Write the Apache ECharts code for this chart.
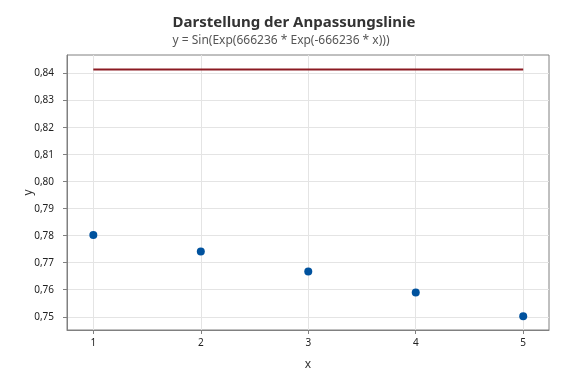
<!DOCTYPE html>
<html>
<head>
<meta charset="utf-8">
<script src="https://cdn.jsdelivr.net/npm/echarts@6/dist/echarts.min.js"></script>
<style>html,body{margin:0;padding:0;background:#fff}#c{width:576px;height:384px}</style>
</head>
<body>
<div id="c"></div>
<script>
var titleText = 'Darstellung der Anpassungslinie';
var subtitleText = 'y = Sin(Exp(666236 * Exp(-666236 * x)))';
var xValues = [1, 2, 3, 4, 5];
var yValues = [0.7803, 0.7742, 0.7668, 0.7590, 0.7502];
var fitX = [1, 2, 3, 4, 5];
var fitY = [0.8415, 0.8415, 0.8415, 0.8415, 0.8415];
var xTicks = [1, 2, 3, 4, 5];
var yTicks = [0.75, 0.76, 0.77, 0.78, 0.79, 0.80, 0.81, 0.82, 0.83, 0.84];

var FONT = '"Noto Sans", "Open Sans", sans-serif';
var chart = echarts.init(document.getElementById('c'), null, {renderer: 'canvas'});
chart.setOption({
  animation: false,
  backgroundColor: '#fff',
  title: [
    {text: titleText, left: 289, top: 10, textAlign: 'center',
     textStyle: {fontFamily: FONT, fontSize: 15, fontWeight: 'bold', color: '#333'}},
    {text: subtitleText, left: 276, top: 30, textAlign: 'center',
     textStyle: {fontFamily: FONT, fontSize: 12, fontWeight: 'normal', color: '#555'}}
  ],
  grid: {left: 67, right: 27, top: 55, bottom: 54, show: true, borderColor: '#808080', borderWidth: 1, backgroundColor: 'transparent'},
  xAxis: {
    type: 'value', min: 0.755, max: 5.24,
    name: 'x', nameLocation: 'middle', nameGap: 29,
    nameTextStyle: {fontFamily: FONT, fontSize: 12, color: '#333'},
    axisLine: {show: true, lineStyle: {color: '#808080'}},
    axisTick: {show: true, length: 4, customValues: xTicks, lineStyle: {color: '#808080'}},
    axisLabel: {customValues: xTicks, margin: 8, fontFamily: FONT, fontSize: 10, color: '#222'},
    splitLine: {show: true, lineStyle: {color: '#e4e4e4'}}
  },
  yAxis: {
    type: 'value', min: 0.7451, max: 0.8469,
    name: 'y', nameLocation: 'middle', nameGap: 32, nameRotate: 90, nameMoveOverlap: false,
    nameTextStyle: {fontFamily: FONT, fontSize: 12, color: '#333'},
    axisLine: {show: true, lineStyle: {color: '#808080'}},
    axisTick: {show: true, length: 4, customValues: yTicks, lineStyle: {color: '#808080'}},
    axisLabel: {customValues: yTicks, margin: 13, fontFamily: FONT, fontSize: 10, color: '#222',
      formatter: function (v) { return v.toFixed(2).replace('.', ','); }},
    splitLine: {show: true, lineStyle: {color: '#e4e4e4'}}
  },
  series: [
    {type: 'line', data: fitX.map(function (x, i) { return [x, fitY[i]]; }),
     showSymbol: false, symbol: 'none', lineStyle: {color: '#8b1a22', width: 2}, z: 2},
    {type: 'scatter', data: xValues.map(function (x, i) { return [x, yValues[i]]; }),
     symbol: 'circle', symbolSize: 8, itemStyle: {color: '#00529e', opacity: 1}, z: 3}
  ]
});
</script>
</body>
</html>
